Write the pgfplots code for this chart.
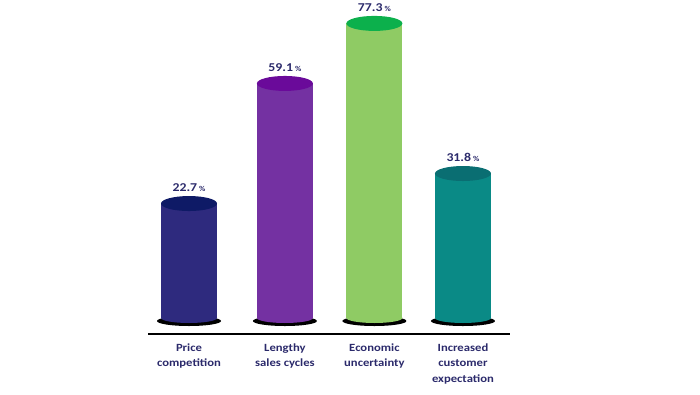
\documentclass[border=0pt]{standalone}
\usepackage{pgfplots}
\usepackage{pgfplotstable}
\pgfplotsset{compat=1.18}
\usepackage{fontspec}
\setmainfont{Carlito}[FakeStretch=1.15]
\definecolor{txt}{HTML}{2B2A6B}
\definecolor{b1}{HTML}{2E2A7E}\definecolor{t1}{HTML}{0E1A66}
\definecolor{b2}{HTML}{7431A2}\definecolor{t2}{HTML}{6A0A9A}
\definecolor{b3}{HTML}{8FCB64}\definecolor{t3}{HTML}{0CB04C}
\definecolor{b4}{HTML}{0A8A86}\definecolor{t4}{HTML}{0A6E72}
\pgfdeclareplotmark{cylshadow}{\pgfpathellipse{\pgfpoint{0pt}{-3pt}}{\pgfpoint{32pt}{0pt}}{\pgfpoint{0pt}{5pt}}\pgfusepathqfill}
\pgfdeclareplotmark{cylbase}{\pgfpathellipse{\pgfpointorigin}{\pgfpoint{28pt}{0pt}}{\pgfpoint{0pt}{5pt}}\pgfusepathqfill}
\pgfdeclareplotmark{cyltop}{\pgfpathellipse{\pgfpointorigin}{\pgfpoint{28pt}{0pt}}{\pgfpoint{0pt}{7.5pt}}\pgfusepathqfill}
\pgfplotstableread{
x v
0 22.7
1.05 59.1
2.03 77.3
3 31.8
}\data
\newcommand\cyl[4]{%
\addplot[only marks, mark=cylshadow, mark options={fill=black, draw=none}, restrict x to domain=#1:#2] table[x=x, y expr=0] {\data};
\addplot[ybar, bar width=56pt, bar shift=0pt, fill=#3, draw=none, restrict x to domain=#1:#2] table[x=x, y expr=\thisrow{v}+12] {\data};
\addplot[only marks, mark=cylbase, mark options={fill=#3, draw=none}, restrict x to domain=#1:#2] table[x=x, y expr=0] {\data};
\addplot[only marks, mark=cyltop, mark options={fill=#4, draw=none}, restrict x to domain=#1:#2,
  point meta=explicit, nodes near coords={\pgfmathprintnumber[fixed,precision=1,fixed zerofill]{\pgfplotspointmeta}\,{\fontsize{7.5}{8}\selectfont\%}},
  every node near coord/.append style={anchor=south, yshift=8pt, text=txt, font=\fontsize{12}{14}\selectfont\bfseries}]
  table[x=x, y expr=\thisrow{v}+12, meta=v] {\data};
}
\begin{document}
\begin{tikzpicture}
\begin{axis}[
  at={(148pt,60pt)}, anchor=south west,
  scale only axis, width=362pt, height=334pt,
  xmin=-0.449, xmax=3.515, ymin=-4.85, ymax=96.4,
  clip=false,
  hide y axis,
  axis x line*=bottom,
  x axis line style={line width=1.4pt, -},
  xtick={0,1.05,2.03,3},
  xticklabels={{Price\\competition},{Lengthy\\sales cycles},{Economic\\uncertainty},{Increased\\customer\\expectation}},
  xticklabel style={align=center, text=txt, font=\fontsize{11}{15.5}\selectfont\bfseries, yshift=-6pt},
  major tick length=0pt,
  /pgf/number format/assume math mode=true,
]
\cyl{-0.2}{0.2}{b1}{t1}
\cyl{0.85}{1.25}{b2}{t2}
\cyl{1.83}{2.23}{b3}{t3}
\cyl{2.8}{3.2}{b4}{t4}
\end{axis}
\pgfresetboundingbox
\path[use as bounding box] (0,0) rectangle (700pt,394pt);
\end{tikzpicture}
\end{document}
